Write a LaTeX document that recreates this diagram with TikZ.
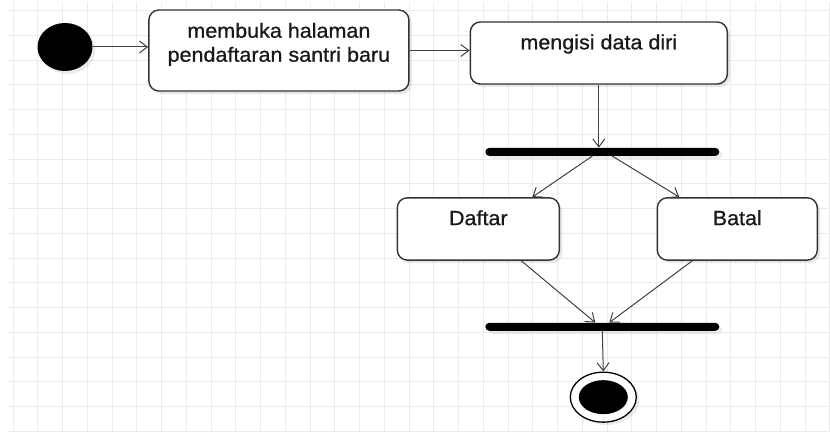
\documentclass[tikz,border=0pt]{standalone}
\usepackage{fontspec}
\setmainfont{Liberation Sans}[FakeStretch=1.05, FakeBold=0.8]
\usetikzlibrary{shapes, arrows.meta, positioning, shadows}
\tikzstyle{activity} = [draw=black!80, line width=1.4pt, rectangle, fill=white,
    rounded corners=10pt, align=center, inner xsep=4pt, inner ysep=0pt,
    text height=27.3pt, text=black!90,
    drop shadow={shadow xshift=3pt, shadow yshift=-3pt, opacity=0.18}]
\tikzstyle{bar} = [fill=black, rectangle, rounded corners=4pt, inner sep=0pt,
    minimum width=234pt, minimum height=8pt,
    drop shadow={shadow xshift=3pt, shadow yshift=-3pt, opacity=0.15}]
\tikzstyle{initial} = [fill=black, ellipse, inner sep=0pt,
    minimum width=55pt, minimum height=48pt,
    drop shadow={shadow xshift=3pt, shadow yshift=-3pt, opacity=0.15}]
\tikzstyle{final} = [draw=black, line width=1.3pt, fill=white, ellipse, inner sep=0pt,
    minimum width=66pt, minimum height=50pt,
    drop shadow={shadow xshift=3pt, shadow yshift=-3pt, opacity=0.15},
    path picture={\fill[black] (path picture bounding box.center) ellipse (24.5pt and 17pt);}]
\tikzstyle{flow} = [->, draw=black!75, line width=1pt]
\tikzstyle{gridline} = [draw=black!8, line width=0.8pt]

\begin{document}
\begin{tikzpicture}[x=1pt, y=1pt, >={Straight Barb[length=8pt,width=12pt]},
    font=\fontsize{20.5}{24}\selectfont]
    % background grid
    \useasboundingbox (0,0) rectangle (830,432);
    \foreach \gx in {0,...,33}
        \draw [gridline] (13+24.75*\gx, 0) -- (13+24.75*\gx, 430);
    \foreach \gy in {0,...,17}
        \draw [gridline] (8, 421.5-24.75*\gy) -- (830, 421.5-24.75*\gy);

    % We start by placing the nodes
    \node [initial] (start) at (65,385) {};
    \node [activity, minimum width=260pt, text height=51.7pt, text depth=29.3pt]
        (membuka) [right=55.5pt of start, yshift=-3.5pt] {membuka halaman\\pendaftaran santri baru};
    \node [activity, minimum width=257pt, text depth=34.7pt]
        (mengisi) [right=60pt of membuka, yshift=-2.5pt] {mengisi data diri};
    \node [bar] (fork) [below=63pt of mengisi, xshift=3.5pt] {};
    \node [activity, minimum width=162pt, text depth=35pt]
        (daftar) [below=41pt of fork, xshift=-124pt] {Daftar};
    \node [activity, minimum width=160pt, text depth=35pt]
        (batal) [below=41pt of fork, xshift=135pt] {Batal};
    \node [bar] (join) [below=166.5pt of fork] {};
    \node [final] (end) [below=40.5pt of join, xshift=1pt] {};

    % Once the nodes are placed, connecting them is easy.
    \draw [flow] (start.east) -- (start.east -| membuka.west);
    \draw [flow] (membuka.east) -- (membuka.east -| mengisi.west);
    \draw [flow] (mengisi.south) -- (mengisi.south |- fork.north);
    \draw [flow] ([xshift=-10pt]fork.south) -- ([xshift=54pt]daftar.north);
    \draw [flow] ([xshift=10pt]fork.south) -- ([xshift=-58pt]batal.north);
    \draw [flow] ([xshift=43pt]daftar.south) -- ([xshift=-7pt]join.north);
    \draw [flow] ([xshift=-45pt]batal.south) -- ([xshift=7pt]join.north);
    \draw [flow] (join.south) -- (end.north);
\end{tikzpicture}
\end{document}
